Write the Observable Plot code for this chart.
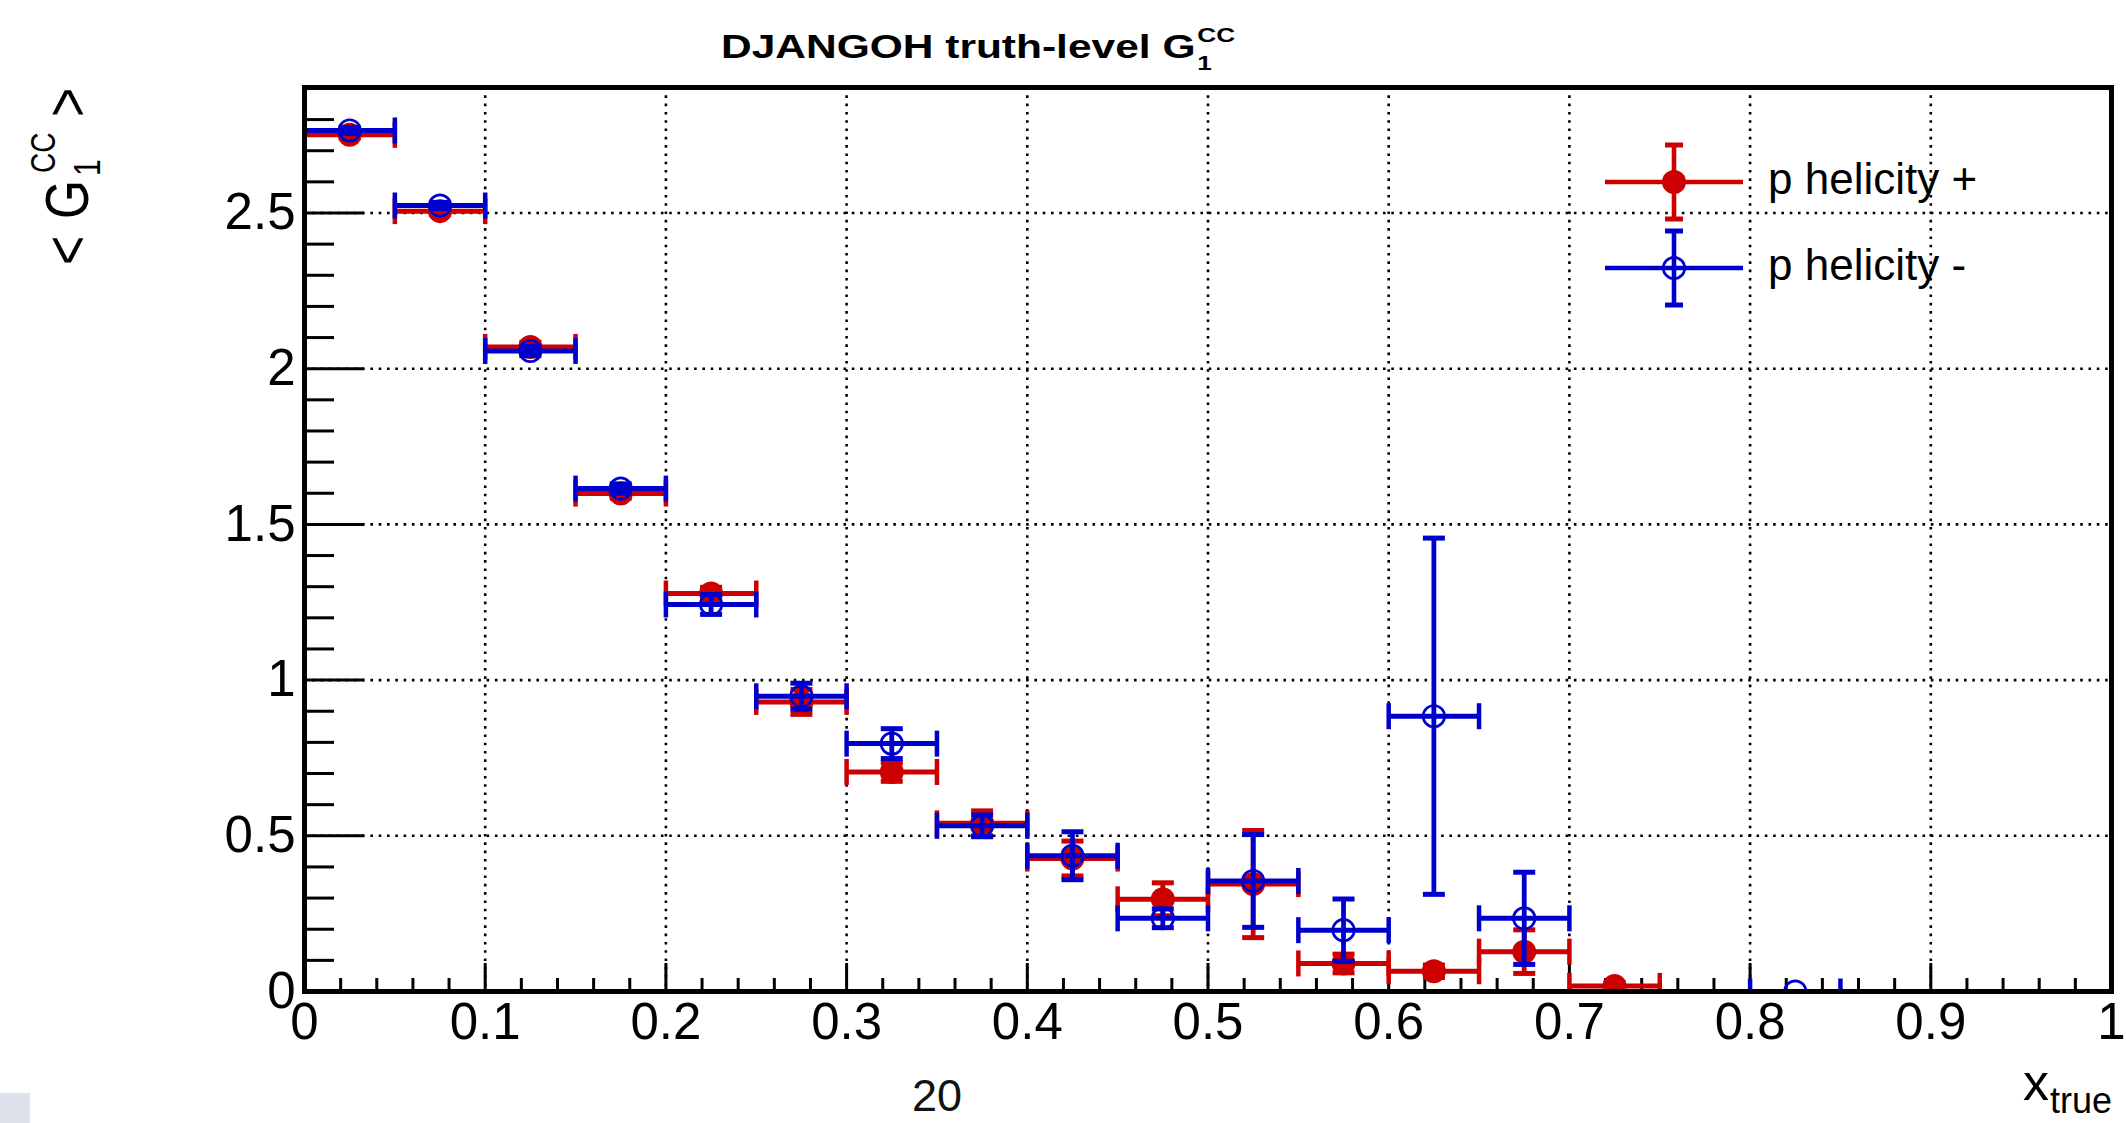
<!DOCTYPE html>
<html>
<head>
<meta charset="utf-8">
<script src="https://cdn.jsdelivr.net/npm/d3@7"></script>
<script src="https://cdn.jsdelivr.net/npm/@observablehq/plot@0.6"></script>
<style>
  html, body { margin: 0; padding: 0; background: #fff; }
  #wrap { position: relative; width: 2126px; height: 1123px; overflow: hidden; background: #fff;
          font-family: "Liberation Sans", Arial, Helvetica, sans-serif; }
  #wrap > svg { position: absolute; left: 0; top: 0; }
  #overlay { pointer-events: none; }
</style>
</head>
<body>
<div id="wrap"></div>
<script>
// ---------------- data ----------------
const binHalfWidth = 0.025;

// p helicity + (red, filled circles)
const redX   = [0.025, 0.075, 0.125, 0.175, 0.225, 0.275, 0.325, 0.375, 0.425, 0.475, 0.525, 0.575, 0.625, 0.675, 0.725];
const redY   = [2.751, 2.506, 2.070, 1.599, 1.278, 0.930, 0.705, 0.540, 0.427, 0.296, 0.345, 0.090, 0.065, 0.128, 0.018];
const redErr = [0.010, 0.010, 0.015, 0.015, 0.020, 0.040, 0.030, 0.040, 0.056, 0.053, 0.172, 0.030, 0.020, 0.070, 0.010];

// p helicity - (blue, open circles)
const blueX   = [0.025, 0.075, 0.125, 0.175, 0.225, 0.275, 0.325, 0.375, 0.425, 0.475, 0.525, 0.575, 0.625, 0.675, 0.825];
const blueY   = [2.765, 2.524, 2.057, 1.615, 1.243, 0.948, 0.796, 0.532, 0.436, 0.235, 0.355, 0.197, 0.884, 0.235, 0.000];
const blueErr = [0.010, 0.010, 0.015, 0.015, 0.032, 0.042, 0.048, 0.035, 0.077, 0.030, 0.149, 0.100, 0.572, 0.148, 0.000];

// axes
const xTicks      = [0, 0.1, 0.2, 0.3, 0.4, 0.5, 0.6, 0.7, 0.8, 0.9, 1];
const xTickLabels = ["0", "0.1", "0.2", "0.3", "0.4", "0.5", "0.6", "0.7", "0.8", "0.9", "1"];
const yTicks      = [0, 0.5, 1, 1.5, 2, 2.5];
const yTickLabels = ["0", "0.5", "1", "1.5", "2", "2.5"];
const xGrid = [0.1, 0.2, 0.3, 0.4, 0.5, 0.6, 0.7, 0.8, 0.9];
const yGrid = [0.5, 1, 1.5, 2, 2.5];
const xDomain = [0, 1];
const yDomain = [0, 2.903];

const seriesNames = ["p helicity +", "p helicity -"];
const RED = "#cc0000", BLUE = "#0000cc";

// ---------------- build ----------------
const W = 2126, H = 1123;
const mL = 304, mR = 15, mT = 87, mB = 132;
const innerW = W - mL - mR, innerH = H - mT - mB;

const red  = redX.map((x, i) => ({x, y: redY[i],  e: redErr[i]}));
const blue = blueX.map((x, i) => ({x, y: blueY[i], e: blueErr[i]}));

const xMinor = d3.ticks(0, 1, 50).filter(t => !xTicks.some(m => Math.abs(m - t) < 1e-9));
const yMinor = d3.ticks(0, 2.9, 29).filter(t => !yTicks.some(m => Math.abs(m - t) < 1e-9));

// custom symbols: vertical and horizontal cap segments (half-length = r)
const vCap = {draw(ctx, size) { const r = Math.sqrt(size / Math.PI); ctx.moveTo(0, -r); ctx.lineTo(0, r); }};
const hCap = {draw(ctx, size) { const r = Math.sqrt(size / Math.PI); ctx.moveTo(-r, 0); ctx.lineTo(r, 0); }};

function errorMarks(data, color, open) {
  return [
    Plot.ruleY(data, {y: "y", x1: d => d.x - binHalfWidth, x2: d => d.x + binHalfWidth,
                      stroke: color, strokeWidth: 5, clip: true}),
    Plot.dot(data, {x: d => d.x - binHalfWidth, y: "y", symbol: vCap, r: 13,
                    stroke: color, strokeWidth: 4.5, fill: "none", clip: true}),
    Plot.dot(data, {x: d => d.x + binHalfWidth, y: "y", symbol: vCap, r: 13,
                    stroke: color, strokeWidth: 4.5, fill: "none", clip: true}),
    Plot.ruleX(data, {x: "x", y1: d => d.y - d.e, y2: d => d.y + d.e,
                      stroke: color, strokeWidth: 4.8, clip: true}),
    Plot.dot(data, {x: "x", y: d => d.y + d.e, symbol: hCap, r: 11,
                    stroke: color, strokeWidth: 5, fill: "none", clip: true}),
    Plot.dot(data, {x: "x", y: d => d.y - d.e, symbol: hCap, r: 11,
                    stroke: color, strokeWidth: 5, fill: "none", clip: true}),
    open
      ? Plot.dot(data, {x: "x", y: "y", r: 10.7, stroke: color, strokeWidth: 2.7, fill: "none", clip: true})
      : Plot.dot(data, {x: "x", y: "y", r: 12, fill: color, stroke: "none", clip: true})
  ];
}

const chart = Plot.plot({
  width: W, height: H,
  marginLeft: mL, marginRight: mR, marginTop: mT, marginBottom: mB,
  x: {domain: xDomain},
  y: {domain: yDomain},
  style: {fontFamily: "'Liberation Sans', Arial, Helvetica, sans-serif", color: "black", background: "white"},
  marks: [
    Plot.gridX({ticks: xGrid, stroke: "black", strokeOpacity: 1, strokeWidth: 2.6, strokeDasharray: "2.6 5.7"}),
    Plot.gridY({ticks: yGrid, stroke: "black", strokeOpacity: 1, strokeWidth: 2.6, strokeDasharray: "2.6 5.7"}),
    Plot.tickX(xTicks, {x: d => d, stroke: "black", strokeWidth: 3, insetTop: innerH - 28}),
    Plot.tickX(xMinor, {x: d => d, stroke: "black", strokeWidth: 3, insetTop: innerH - 13}),
    Plot.tickY(yTicks, {y: d => d, stroke: "black", strokeWidth: 3, insetRight: innerW - 60}),
    Plot.tickY(yMinor, {y: d => d, stroke: "black", strokeWidth: 3, insetRight: innerW - 30}),
    ...errorMarks(red, RED, false),
    ...errorMarks(blue, BLUE, true),
    Plot.frame({stroke: "black", strokeWidth: 5}),
    Plot.axisX({ticks: xTicks, tickSize: 0, tickPadding: 11, fontSize: 51, label: null,
                tickFormat: d => xTickLabels[xTicks.indexOf(d)]}),
    Plot.axisY({ticks: yTicks, tickSize: 0, tickPadding: 9, fontSize: 51, label: null,
                tickFormat: d => yTickLabels[yTicks.indexOf(d)]})
  ]
});
document.getElementById("wrap").appendChild(chart);

// ---------------- overlay: title, axis titles, legend, page decorations ----------------
const ns = "http://www.w3.org/2000/svg";
const ov = d3.select("#wrap").append("svg").attr("id", "overlay")
  .attr("width", W).attr("height", H).attr("xmlns", ns)
  .style("font-family", "'Liberation Sans', Arial, Helvetica, sans-serif");

// title
const tg = ov.append("g").attr("transform", "translate(721,58) scale(1.25,1)");
tg.append("text").attr("font-size", 34).attr("font-weight", "bold").attr("fill", "black")
  .text("DJANGOH truth-level G");
tg.append("text").attr("x", 381).attr("y", 12).attr("font-size", 21).attr("font-weight", "bold").text("1");
tg.append("text").attr("x", 381).attr("y", -16).attr("font-size", 21).attr("font-weight", "bold").text("CC");

// y-axis title  < G_1^CC >
const yg = ov.append("g").attr("transform", "translate(88,265) rotate(-90) scale(1,1.22)");
yg.append("text").attr("x", 0).attr("y", 0).attr("font-size", 50).text("<");
yg.append("text").attr("x", 46).attr("y", 0).attr("font-size", 50).text("G");
yg.append("text").attr("x", 89).attr("y", 10).attr("font-size", 30).text("1");
yg.append("text").attr("x", 92).attr("y", -27).attr("font-size", 28).text("CC");
yg.append("text").attr("x", 148).attr("y", 0).attr("font-size", 50).text(">");

// x-axis title x_true
ov.append("text").attr("x", 2023).attr("y", 1100).attr("font-size", 52).text("x");
ov.append("text").attr("x", 2050).attr("y", 1113).attr("font-size", 36).text("true");

// legend
const legendRows = [
  {name: seriesNames[0], color: RED,  cy: 182, open: false},
  {name: seriesNames[1], color: BLUE, cy: 268, open: true}
];
for (const r of legendRows) {
  const g = ov.append("g");
  g.append("line").attr("x1", 1605).attr("x2", 1743).attr("y1", r.cy).attr("y2", r.cy)
    .attr("stroke", r.color).attr("stroke-width", 4.6);
  g.append("line").attr("x1", 1674).attr("x2", 1674).attr("y1", r.cy - 37).attr("y2", r.cy + 37)
    .attr("stroke", r.color).attr("stroke-width", 4.6);
  for (const yy of [r.cy - 37, r.cy + 37]) {
    g.append("line").attr("x1", 1665).attr("x2", 1683).attr("y1", yy).attr("y2", yy)
      .attr("stroke", r.color).attr("stroke-width", 5);
  }
  if (r.open) {
    g.append("circle").attr("cx", 1674).attr("cy", r.cy).attr("r", 10.7)
      .attr("fill", "none").attr("stroke", r.color).attr("stroke-width", 2.7);
  } else {
    g.append("circle").attr("cx", 1674).attr("cy", r.cy).attr("r", 12).attr("fill", r.color);
  }
  g.append("text").attr("x", 1768).attr("y", r.cy + 12).attr("font-size", 44).attr("fill", "black").text(r.name);
}

// page number and slide decoration
ov.append("text").attr("x", 912).attr("y", 1111).attr("font-size", 45).attr("fill", "#111").text("20");
ov.append("rect").attr("x", 0).attr("y", 1093).attr("width", 30).attr("height", 30).attr("fill", "#dde2ec");
</script>
</body>
</html>
